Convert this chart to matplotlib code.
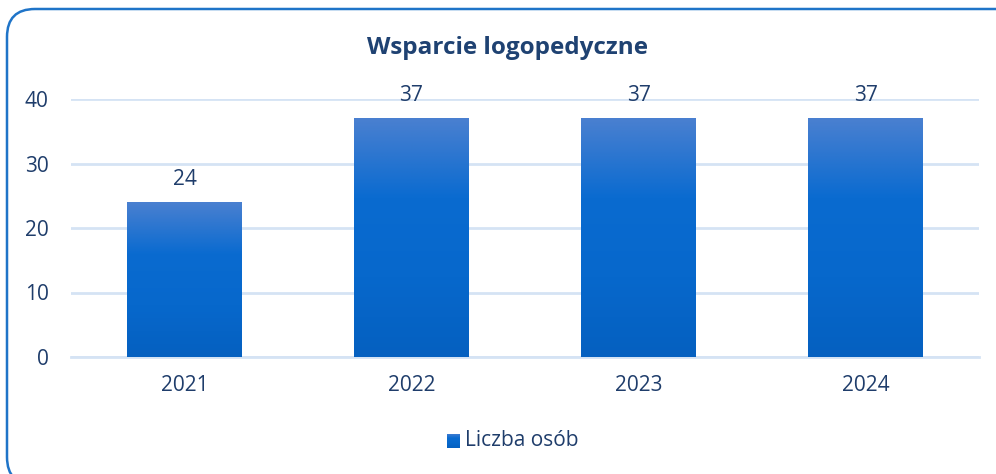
import numpy as np
import matplotlib
matplotlib.use("Agg")
import matplotlib.pyplot as plt
from matplotlib.patches import FancyBboxPatch
from matplotlib.transforms import IdentityTransform
from matplotlib.colors import LinearSegmentedColormap

years = ["2021", "2022", "2023", "2024"]
values = [24, 37, 37, 37]
title = "Wsparcie logopedyczne"
series_name = "Liczba osób"

plt.rcParams['font.family'] = ['Open Sans', 'DejaVu Sans']
txt = "#1f3d6b"
grad = LinearSegmentedColormap.from_list("g", ["#0560c0", "#0768cc", "#0a6bd0", "#4a80d0"])

fig = plt.figure(figsize=(9.96, 4.74), dpi=100)
ax = fig.add_axes([71 / 996, 1 - 357 / 474, (979 - 71) / 996, (357 - 99) / 474])

x = np.arange(len(years))
bars = ax.bar(x, values, width=0.506, color="none", zorder=3)
g = np.linspace(0, 1, 256).reshape(-1, 1)
for b in bars:
    x0, y0 = b.get_x(), b.get_y()
    w, h = b.get_width(), b.get_height()
    im = ax.imshow(g, cmap=grad, aspect="auto", origin="lower",
                   extent=[x0, x0 + w, y0, y0 + h], zorder=3)
    im.set_clip_path(b)
    ax.text(x0 + w / 2, h + 1.9, str(int(h)), ha="center", va="bottom",
            fontsize=15, color=txt)

ax.set_xlim(-0.5, len(years) - 0.5)
ax.set_ylim(0, 40)
ax.set_yticks([0, 10, 20, 30, 40])
ax.set_xticks(x)
ax.set_xticklabels(years)
ax.grid(axis="y", color="#d5e3f4", linewidth=2, zorder=0)
for s in ["top", "right", "left"]:
    ax.spines[s].set_visible(False)
ax.spines["bottom"].set_color("#d5e3f4")
ax.spines["bottom"].set_linewidth(2)
ax.tick_params(length=0, labelsize=15, labelcolor=txt)
ax.tick_params(axis="y", pad=16)
ax.tick_params(axis="x", pad=13)

fig.text(507 / 996, 1 - 48 / 474, title, ha="center", va="center",
         fontsize=17.5, fontweight="bold", color="#1f4272")

# legend
lx, ly = 447 / 996, 1 - 441 / 474
sq = fig.add_axes([lx, ly - 7 / 474, 13 / 996, 14 / 474])
sq.imshow(g, cmap=grad, aspect="auto", origin="lower")
sq.axis("off")
fig.text(lx + 18 / 996, ly, series_name, ha="left", va="center",
         fontsize=15, color=txt)

# rounded frame, partly cut off at right and bottom
border = FancyBboxPatch((7, -11), 1017, 476,
                        boxstyle="round,pad=0,rounding_size=28",
                        transform=IdentityTransform(), fill=False,
                        edgecolor="#1f74c8", linewidth=1.8)
fig.patches.append(border)

fig.savefig("out.png", dpi=100)
